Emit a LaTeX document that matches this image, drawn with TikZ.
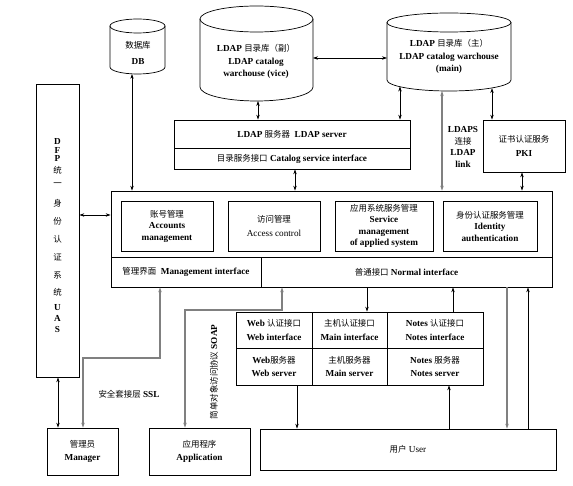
\documentclass[tikz,border=0pt]{standalone}
\usepackage{fontspec}
\setmainfont{Liberation Serif}
\newfontfamily\cjk{Noto Sans CJK SC}[Scale=0.92]
\newcommand\zh[1]{{\cjk\mdseries #1}}
\newcommand\myfont{\fontsize{9.2}{11.5}\selectfont}
\usetikzlibrary{arrows.meta}
\begin{document}
\begin{tikzpicture}[x=1pt,y=-1pt,
  bx/.style={draw, line width=0.7pt, inner sep=0pt, align=center, font=\myfont\bfseries},
  lbl/.style={inner sep=0pt, align=center, font=\myfont\bfseries},
  inv/.style={inner sep=0pt},
  cyl/.style={draw, line width=0.7pt},
  ar/.style={line width=0.6pt, -{Stealth[length=5pt,width=3.4pt]}},
  ar2/.style={line width=0.6pt, {Stealth[length=5pt,width=3.4pt]}-{Stealth[length=5pt,width=3.4pt]}},
  gr/.style={draw=black!50, line width=1.1pt}]
\fill[white] (0,0) rectangle (573,486);
\useasboundingbox (0,0) rectangle (573,486);

% cylinders
\node[inv, minimum width=55, minimum height=55] (db) at (137.5,46.5) {};
\draw[cyl] (110,26) -- (110,67) arc[start angle=180, end angle=0, x radius=27.5, y radius=7] -- (165,26);
\draw[cyl] (137.5,26) ellipse [x radius=27.5, y radius=7];
\node[lbl] (dbt) at (138,53) {\zh{数据库}\\[5pt]DB};

\node[inv, minimum width=113, minimum height=95] (vice) at (256.5,53.5) {};
\draw[cyl] (200,19) -- (200,87) arc[start angle=180, end angle=0, x radius=56.5, y radius=14] -- (313,19);
\draw[cyl] (256.5,19) ellipse [x radius=56.5, y radius=13];
\node[lbl] (vicet) at (256,61) {LDAP \zh{目录库（副）}\\[2pt]LDAP catalog\\warchouse (vice)};

\node[inv, minimum width=124, minimum height=78] (maincyl) at (449.5,52) {};
\draw[cyl] (387,22.5) -- (387,80) arc[start angle=180, end angle=0, x radius=62, y radius=11] -- (511,22.5);
\draw[cyl] (449,22.5) ellipse [x radius=62, y radius=9.5];
\node[lbl] (maint) at (449,56) {LDAP \zh{目录库（主）}\\[2pt]LDAP catalog warchouse\\(main)};

% boxes
\node[bx, minimum width=43, minimum height=293] (uas) at (57.5,230.5) {};
\foreach \c/\yy [count=\i] in {D/141,F/150,P/158,U/308,A/318,S/329}
  \node[lbl] (uasl\i) at (57.5,\yy) {\c};
\foreach \c/\yy [count=\i] in {统/170,一/185,身/203,份/221,认/239,证/257,系/275,统/292}
  \node[lbl] (uasc\i) at (57.5,\yy) {\zh{\c}};

\node[bx, minimum width=71, minimum height=47] (mgr) at (82.5,451.5) {\zh{管理员}\\[1.5pt]Manager};
\node[bx, minimum width=101, minimum height=47] (app) at (199.5,451.5) {\zh{应用程序}\\[1.5pt]Application};
\node[bx, minimum width=296, minimum height=41, font=\myfont] (user) at (408,449.5) {\zh{用户} User};

\node[bx, minimum width=441, minimum height=96] (mainbox) at (331.5,239) {};
\node[bx, minimum width=150, minimum height=30] (mgmt) at (186,272) {\zh{管理界面}\ \ Management interface};
\node[bx, minimum width=291, minimum height=30] (norm) at (406.5,272) {\zh{普通接口} Normal interface};
\node[bx, minimum width=92, minimum height=50] (acc) at (167,226) {\zh{账号管理}\\Accounts\\management};
\node[bx, minimum width=92, minimum height=50, font=\myfont] (acs) at (274,226) {\zh{访问管理}\\[2pt]Access control};
\node[bx, minimum width=98, minimum height=50] (svc) at (384,226) {\zh{应用系统服务管理}\\Service\\management\\of applied system};
\node[bx, minimum width=94, minimum height=50] (idn) at (490,226) {\zh{身份认证服务管理}\\Identity\\authentication};

\node[bx, minimum width=236, minimum height=28] (lsrv) at (292,134) {LDAP \zh{服务器}\ \ LDAP server};
\node[bx, minimum width=236, minimum height=21] (csi) at (292,158.5) {\zh{目录服务接口} Catalog service interface};
\node[bx, minimum width=82, minimum height=52] (pki) at (524,146) {\zh{证书认证服务}\\[2pt]PKI};

\node[bx, minimum width=76, minimum height=36] (c11) at (274,330) {Web \zh{认证接口}\\[2pt]Web interface};
\node[bx, minimum width=75, minimum height=36] (c12) at (349.5,330) {\zh{主机认证接口}\\[2pt]Main interface};
\node[bx, minimum width=96, minimum height=36] (c13) at (435,330) {Notes \zh{认证接口}\\[2pt]Notes interface};
\node[bx, minimum width=76, minimum height=37] (c21) at (274,366.5) {Web\zh{服务器}\\[2pt]Web server};
\node[bx, minimum width=75, minimum height=37] (c22) at (349.5,366.5) {\zh{主机服务器}\\[2pt]Main server};
\node[bx, minimum width=96, minimum height=37] (c23) at (435,366.5) {Notes \zh{服务器}\\[2pt]Notes server};

% labels
\node[lbl] (ldaps) at (463,147) {LDAPS\\\zh{连接}\\LDAP\\link};
\node[lbl] (ssl) at (129,394) {\zh{安全套接层} SSL};
\node[lbl, rotate=90] (soap) at (214,372) {\zh{简单对象访问协议} SOAP};

% anchor points on cylinders
\coordinate (dbA) at (132,73.9);
\coordinate (viceA) at (258,101);
\coordinate (mcA) at (400,86.5);
\coordinate (mcB) at (442,91);
\coordinate (mcC) at (492,88.1);
\coordinate (viceR) at (313,58);
\coordinate (mcL) at (387,58);

% connectors
\draw[ar2] (dbA) -- (dbA |- mainbox.north);
\draw[ar2] (viceR) -- (mcL);
\draw[ar2] (viceA) -- (viceA |- lsrv.north);
\draw[ar2] (mcA) -- (mcA |- lsrv.north);
\draw[ar2] (295,0 |- csi.south) -- (295,0 |- mainbox.north);
\draw[ar2, gr] (mcB) -- (mcB |- mainbox.north);
\draw[ar2] (mcC) -- (mcC |- pki.north);
\draw[ar2] (522,0 |- pki.south) -- (522,0 |- mainbox.north);
\draw[ar2] (uas.east |- 0,215) -- (mainbox.west |- 0,215);
\draw[ar2] (58,0 |- uas.south) -- (58,0 |- mgr.north);
\draw[ar2, gr] (83,0 |- mgr.north) -- (83,358) -- (160,358) -- (160,0 |- mgmt.south);
\draw[ar2, gr] (185,0 |- app.north) -- (185,310) -- (282,310) -- (282,0 |- norm.south);
\draw[ar] (367,0 |- norm.south) -- (367,0 |- c12.north);
\draw[ar] (453,0 |- c13.north) -- (453,0 |- norm.south);
\draw[ar] (297,0 |- c21.south) -- (297,0 |- user.north);
\draw[ar] (449,0 |- user.north) -- (449,0 |- c23.south);
\draw[ar, gr] (507,0 |- norm.south) -- (507,0 |- user.north);
\draw[ar] (528,0 |- user.north) -- (528,0 |- norm.south);
\end{tikzpicture}
\end{document}
